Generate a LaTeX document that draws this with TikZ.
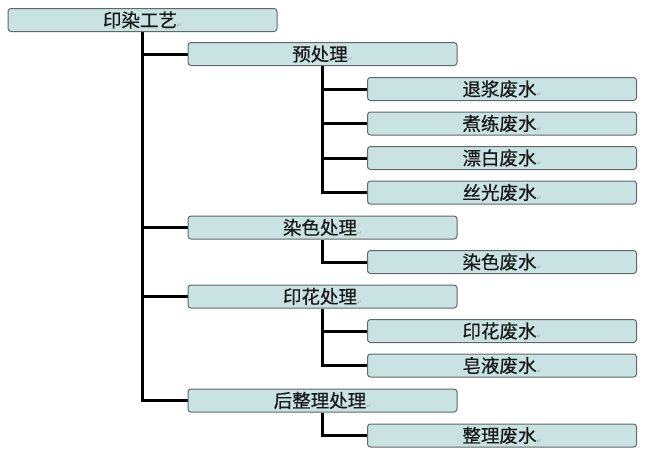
\documentclass[tikz,border=0pt]{standalone}
\usepackage{fontspec}
\usetikzlibrary{backgrounds}
\newfontfamily\cjk[FakeBold=0.6]{Noto Sans CJK SC}
\newfontfamily\symf{DejaVu Sans}
\definecolor{boxfill}{RGB}{201,226,226}
\definecolor{boxline}{RGB}{95,105,105}
\newcommand{\pmark}{{\symf\fontsize{6}{6}\selectfont\color{gray!70}\raisebox{-0.5pt}{↵}}}
\tikzset{
  tbox/.style={draw=boxline, line width=1pt, fill=boxfill, rounded corners=3pt,
    minimum width=269pt, minimum height=23pt, inner sep=0pt,
    font=\cjk\fontsize{18.5}{19}\selectfont, text=black!90},
  conn/.style={line width=3pt, black}
}
\begin{document}
\begin{tikzpicture}[x=1pt,y=-1pt]
\useasboundingbox (0,0) rectangle (646,458);
\node[tbox] (root) at (142.5,20) {印染工艺\pmark};
\node[tbox] (pre) at (322.5,54) {预处理\pmark};
\node[tbox] (c1) at (502,89) {退浆废水\pmark};
\node[tbox] (c2) at (502,123.5) {煮练废水\pmark};
\node[tbox] (c3) at (502,158) {漂白废水\pmark};
\node[tbox] (c4) at (502,192.5) {丝光废水\pmark};
\node[tbox] (dye) at (322.5,227.5) {染色处理\pmark};
\node[tbox] (c5) at (502,262) {染色废水\pmark};
\node[tbox] (prt) at (322.5,296.5) {印花处理\pmark};
\node[tbox] (c6) at (502,331) {印花废水\pmark};
\node[tbox] (c7) at (502,365.5) {皂液废水\pmark};
\node[tbox] (fin) at (322.5,400.5) {后整理处理\pmark};
\node[tbox] (c8) at (502,435.5) {整理废水\pmark};
\begin{scope}[on background layer]
\draw[conn] (root.south) |- (pre.west);
\draw[conn] (root.south) |- (dye.west);
\draw[conn] (root.south) |- (prt.west);
\draw[conn] (root.south) |- (fin.west);
\draw[conn] (pre.south) |- (c1.west);
\draw[conn] (pre.south) |- (c2.west);
\draw[conn] (pre.south) |- (c3.west);
\draw[conn] (pre.south) |- (c4.west);
\draw[conn] (dye.south) |- (c5.west);
\draw[conn] (prt.south) |- (c6.west);
\draw[conn] (prt.south) |- (c7.west);
\draw[conn] (fin.south) |- (c8.west);
\end{scope}
\end{tikzpicture}
\end{document}
